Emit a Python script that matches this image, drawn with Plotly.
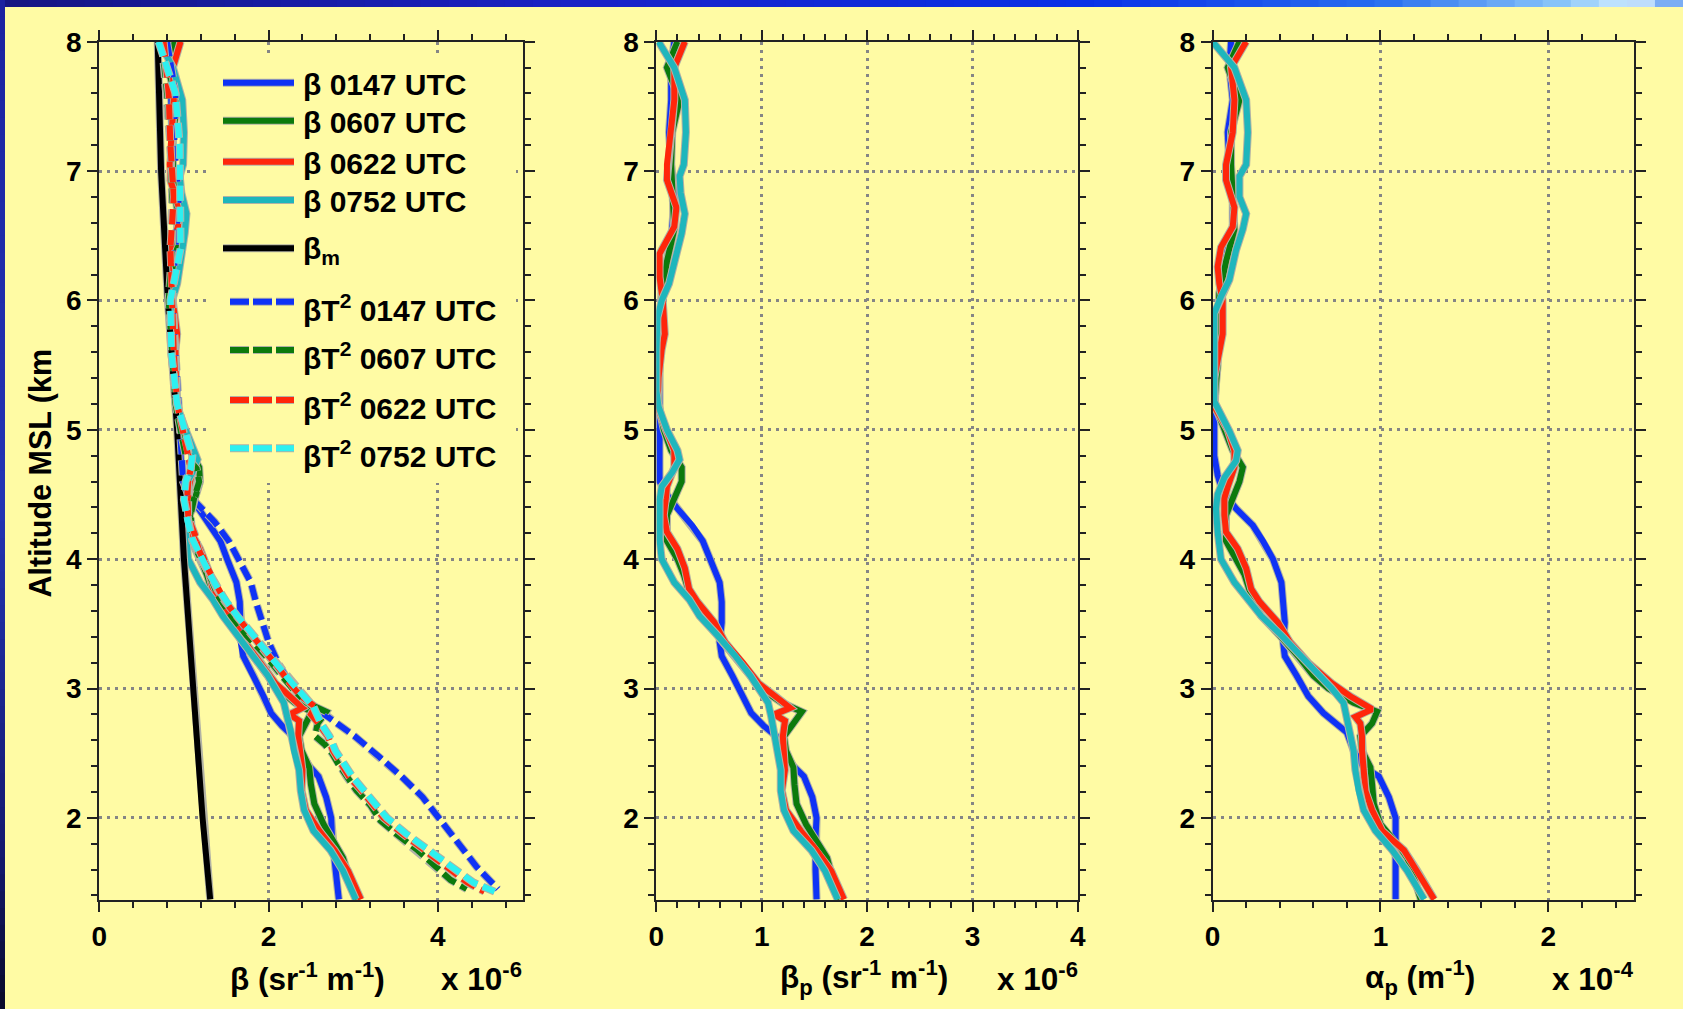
import plotly.graph_objects as go

# ---------------- data ----------------
# Left panel: beta (x 1e-6 sr^-1 m^-1)
ALT_B0147 = [8.0, 7.55, 7.05, 6.8, 6.55, 6.3, 6.05, 5.75, 5.4, 5.1, 4.8, 4.6, 4.52, 4.39, 4.26, 4.14, 4.0, 3.82, 3.67, 3.51, 3.36, 3.25, 3.1, 2.94, 2.81, 2.71, 2.63, 2.52, 2.4, 2.32, 2.16, 2.0, 1.85, 1.6, 1.37]
B0147 = [0.86, 0.85, 0.87, 0.92, 0.92, 0.89, 0.86, 0.87, 0.91, 0.93, 0.96, 0.98, 1.04, 1.17, 1.32, 1.43, 1.51, 1.62, 1.66, 1.67, 1.67, 1.70, 1.82, 1.94, 2.03, 2.16, 2.29, 2.37, 2.48, 2.59, 2.68, 2.74, 2.75, 2.79, 2.83]

ALT_B0607 = [8.0, 7.8, 7.55, 7.3, 7.05, 6.8, 6.55, 6.3, 6.05, 5.75, 5.5, 5.2, 5.0, 4.84, 4.71, 4.6, 4.47, 4.34, 4.14, 4.0, 3.88, 3.72, 3.56, 3.41, 3.25, 3.1, 3.0, 2.89, 2.82, 2.73, 2.63, 2.52, 2.39, 2.26, 2.11, 1.95, 1.8, 1.69, 1.54, 1.37]
B0607 = [0.89, 0.80, 0.93, 0.87, 0.87, 0.90, 0.94, 0.89, 0.86, 0.87, 0.90, 0.92, 0.99, 1.07, 1.18, 1.19, 1.13, 1.07, 1.09, 1.20, 1.27, 1.35, 1.48, 1.64, 1.83, 1.99, 2.10, 2.31, 2.51, 2.44, 2.36, 2.39, 2.48, 2.50, 2.54, 2.65, 2.79, 2.88, 2.95, 3.05]

ALT_B0622 = [8.0, 7.8, 7.55, 7.3, 7.05, 6.93, 6.72, 6.57, 6.45, 6.36, 6.18, 6.0, 5.74, 5.62, 5.4, 5.18, 5.0, 4.84, 4.71, 4.56, 4.47, 4.34, 4.21, 4.08, 3.93, 3.77, 3.67, 3.51, 3.36, 3.2, 3.04, 2.94, 2.85, 2.8, 2.75, 2.63, 2.52, 2.37, 2.21, 2.06, 1.9, 1.75, 1.59, 1.37]
B0622 = [0.96, 0.87, 0.88, 0.86, 0.83, 0.84, 0.94, 0.93, 0.86, 0.81, 0.83, 0.87, 0.92, 0.90, 0.90, 0.91, 1.01, 1.10, 1.11, 1.06, 1.05, 1.04, 1.08, 1.19, 1.28, 1.34, 1.43, 1.60, 1.72, 1.91, 2.08, 2.25, 2.40, 2.25, 2.36, 2.35, 2.37, 2.40, 2.39, 2.44, 2.60, 2.78, 2.94, 3.09]

ALT_B0752 = [8.0, 7.8, 7.55, 7.3, 7.05, 6.96, 6.83, 6.67, 6.52, 6.36, 6.13, 6.0, 5.87, 5.6, 5.3, 5.18, 5.0, 4.84, 4.77, 4.67, 4.56, 4.46, 4.3, 4.15, 4.0, 3.82, 3.69, 3.56, 3.41, 3.25, 3.1, 3.0, 2.89, 2.78, 2.68, 2.52, 2.37, 2.21, 2.06, 1.9, 1.75, 1.59, 1.37]
B0752 = [0.71, 0.87, 0.98, 1.00, 0.99, 0.95, 0.97, 1.03, 1.01, 0.97, 0.92, 0.86, 0.83, 0.85, 0.89, 0.92, 1.02, 1.13, 1.16, 1.10, 1.01, 0.99, 1.01, 1.02, 1.05, 1.19, 1.34, 1.46, 1.64, 1.83, 1.99, 2.08, 2.18, 2.22, 2.26, 2.30, 2.36, 2.38, 2.42, 2.53, 2.73, 2.88, 3.03]

ALT_BM = [8.0, 7.0, 6.0, 5.0, 4.0, 3.0, 2.0, 1.37]
BM = [0.69, 0.73, 0.81, 0.92, 1.00, 1.11, 1.22, 1.31]

ALT_BT0147 = [8.0, 7.6, 7.2, 6.8, 6.4, 6.0, 5.6, 5.2, 4.8, 4.6, 4.5, 4.39, 4.29, 4.14, 3.98, 3.82, 3.67, 3.51, 3.36, 3.2, 3.04, 2.94, 2.84, 2.73, 2.63, 2.47, 2.32, 2.16, 2.0, 1.8, 1.62, 1.45]
BT0147 = [0.80, 0.90, 0.88, 0.94, 0.90, 0.86, 0.90, 0.93, 0.97, 0.99, 1.05, 1.22, 1.36, 1.53, 1.66, 1.79, 1.85, 1.92, 2.00, 2.11, 2.25, 2.38, 2.57, 2.81, 3.02, 3.31, 3.57, 3.82, 4.01, 4.25, 4.46, 4.71]

ALT_BT0607 = [8.0, 7.6, 7.2, 6.8, 6.4, 6.0, 5.6, 5.2, 4.8, 4.7, 4.6, 4.47, 4.34, 4.14, 4.0, 3.88, 3.72, 3.56, 3.41, 3.25, 3.1, 3.0, 2.89, 2.82, 2.73, 2.63, 2.57, 2.5, 2.42, 2.32, 2.21, 2.1, 1.98, 1.88, 1.75, 1.62, 1.52, 1.45]
BT0607 = [0.74, 0.80, 0.84, 0.86, 0.86, 0.82, 0.86, 0.90, 1.02, 1.15, 1.18, 1.12, 1.08, 1.10, 1.22, 1.30, 1.40, 1.56, 1.74, 1.97, 2.15, 2.28, 2.45, 2.68, 2.58, 2.55, 2.66, 2.75, 2.82, 2.92, 3.04, 3.20, 3.32, 3.50, 3.76, 3.98, 4.15, 4.34]

ALT_BT0622 = [8.0, 7.6, 7.2, 6.8, 6.4, 6.0, 5.6, 5.2, 4.8, 4.7, 4.6, 4.47, 4.34, 4.29, 4.19, 4.08, 3.98, 3.88, 3.77, 3.67, 3.56, 3.46, 3.36, 3.25, 3.15, 3.04, 2.94, 2.86, 2.8, 2.73, 2.63, 2.52, 2.42, 2.32, 2.21, 2.11, 2.0, 1.88, 1.75, 1.62, 1.5, 1.43]
BT0622 = [0.76, 0.82, 0.84, 0.88, 0.84, 0.86, 0.88, 0.92, 1.06, 1.08, 1.05, 1.04, 1.05, 1.07, 1.13, 1.17, 1.24, 1.32, 1.39, 1.49, 1.62, 1.75, 1.87, 2.00, 2.13, 2.25, 2.38, 2.55, 2.50, 2.59, 2.70, 2.76, 2.85, 2.95, 3.10, 3.23, 3.36, 3.58, 3.84, 4.10, 4.35, 4.55]

ALT_BT0752 = [8.0, 7.6, 7.2, 6.8, 6.4, 6.0, 5.6, 5.2, 4.8, 4.7, 4.6, 4.46, 4.3, 4.15, 3.98, 3.88, 3.77, 3.67, 3.56, 3.46, 3.36, 3.25, 3.15, 3.04, 2.94, 2.86, 2.73, 2.63, 2.52, 2.42, 2.32, 2.21, 2.11, 2.0, 1.88, 1.75, 1.62, 1.5, 1.43]
BT0752 = [0.70, 0.90, 0.95, 0.96, 0.96, 0.84, 0.85, 0.92, 1.10, 1.08, 1.02, 1.00, 1.04, 1.10, 1.22, 1.31, 1.40, 1.50, 1.63, 1.76, 1.88, 2.02, 2.15, 2.28, 2.42, 2.53, 2.62, 2.72, 2.79, 2.88, 2.99, 3.13, 3.26, 3.40, 3.62, 3.90, 4.17, 4.42, 4.67]

# Middle panel: particulate backscatter beta_p (x 1e-6)
ALT_P0147 = [8.0, 7.8, 7.55, 7.3, 7.05, 6.8, 6.55, 6.3, 6.05, 5.75, 5.4, 5.1, 4.8, 4.6, 4.52, 4.39, 4.26, 4.14, 4.0, 3.82, 3.67, 3.51, 3.36, 3.25, 3.1, 2.94, 2.81, 2.71, 2.63, 2.52, 2.4, 2.32, 2.16, 2.0, 1.85, 1.6, 1.37]
P0147 = [0.17, 0.14, 0.14, 0.12, 0.14, 0.17, 0.15, 0.10, 0.05, 0.03, 0.03, 0.02, 0.02, 0.03, 0.08, 0.20, 0.34, 0.44, 0.51, 0.60, 0.62, 0.62, 0.60, 0.62, 0.72, 0.82, 0.90, 1.02, 1.14, 1.21, 1.30, 1.40, 1.48, 1.52, 1.51, 1.51, 1.52]

ALT_P0607 = [8.0, 7.8, 7.55, 7.3, 7.05, 6.8, 6.55, 6.3, 6.05, 5.75, 5.5, 5.2, 5.0, 4.84, 4.71, 4.6, 4.47, 4.34, 4.14, 4.0, 3.88, 3.72, 3.56, 3.41, 3.25, 3.1, 3.0, 2.89, 2.82, 2.73, 2.63, 2.52, 2.39, 2.26, 2.11, 1.95, 1.8, 1.69, 1.54, 1.37]
P0607 = [0.20, 0.10, 0.22, 0.15, 0.14, 0.15, 0.17, 0.10, 0.05, 0.03, 0.03, 0.02, 0.07, 0.14, 0.24, 0.24, 0.17, 0.10, 0.10, 0.20, 0.26, 0.32, 0.43, 0.58, 0.75, 0.89, 0.99, 1.19, 1.38, 1.30, 1.21, 1.23, 1.30, 1.31, 1.33, 1.42, 1.54, 1.62, 1.67, 1.74]

ALT_P0622 = [8.0, 7.8, 7.55, 7.3, 7.05, 6.93, 6.72, 6.57, 6.45, 6.36, 6.18, 6.0, 5.74, 5.62, 5.4, 5.18, 5.0, 4.84, 4.71, 4.56, 4.47, 4.34, 4.21, 4.08, 3.93, 3.77, 3.67, 3.51, 3.36, 3.2, 3.04, 2.94, 2.85, 2.8, 2.75, 2.63, 2.52, 2.37, 2.21, 2.06, 1.9, 1.75, 1.59, 1.37]
P0622 = [0.27, 0.17, 0.17, 0.14, 0.10, 0.10, 0.19, 0.17, 0.09, 0.03, 0.03, 0.06, 0.08, 0.05, 0.02, 0.01, 0.09, 0.17, 0.17, 0.10, 0.09, 0.07, 0.10, 0.20, 0.27, 0.31, 0.39, 0.55, 0.65, 0.82, 0.97, 1.13, 1.27, 1.12, 1.22, 1.20, 1.21, 1.22, 1.19, 1.23, 1.37, 1.52, 1.66, 1.78]

ALT_P0752 = [8.0, 7.8, 7.55, 7.3, 7.05, 6.96, 6.83, 6.67, 6.52, 6.36, 6.13, 6.0, 5.87, 5.6, 5.3, 5.18, 5.0, 4.84, 4.77, 4.67, 4.56, 4.46, 4.3, 4.15, 4.0, 3.82, 3.69, 3.56, 3.41, 3.25, 3.1, 3.0, 2.89, 2.78, 2.68, 2.52, 2.37, 2.21, 2.06, 1.9, 1.75, 1.59, 1.37]
P0752 = [0.02, 0.17, 0.27, 0.28, 0.26, 0.22, 0.23, 0.27, 0.24, 0.19, 0.12, 0.05, 0.01, 0.00, 0.00, 0.02, 0.10, 0.20, 0.22, 0.15, 0.05, 0.03, 0.03, 0.03, 0.05, 0.17, 0.31, 0.41, 0.58, 0.75, 0.89, 0.97, 1.06, 1.09, 1.11, 1.14, 1.18, 1.18, 1.21, 1.30, 1.47, 1.60, 1.72]

# Right panel: particulate extinction alpha_p (x 1e-4 m^-1)
ALT_A0147 = [8.0, 7.8, 7.55, 7.3, 7.05, 6.8, 6.55, 6.3, 6.05, 5.75, 5.45, 5.1, 4.8, 4.65, 4.52, 4.39, 4.26, 4.14, 4.0, 3.82, 3.67, 3.51, 3.36, 3.25, 3.1, 2.94, 2.81, 2.73, 2.66, 2.52, 2.39, 2.32, 2.16, 2.0, 1.85, 1.6, 1.37]
A0147 = [0.11, 0.10, 0.12, 0.09, 0.10, 0.12, 0.12, 0.07, 0.04, 0.03, 0.01, 0.01, 0.01, 0.03, 0.06, 0.14, 0.24, 0.30, 0.36, 0.41, 0.42, 0.43, 0.42, 0.43, 0.50, 0.57, 0.66, 0.74, 0.80, 0.84, 0.90, 0.99, 1.05, 1.09, 1.09, 1.09, 1.09]

ALT_A0607 = [8.0, 7.8, 7.55, 7.3, 7.05, 6.8, 6.55, 6.3, 6.05, 5.75, 5.5, 5.2, 5.0, 4.84, 4.71, 4.6, 4.47, 4.34, 4.14, 3.98, 3.88, 3.72, 3.56, 3.41, 3.25, 3.1, 3.0, 2.89, 2.82, 2.73, 2.63, 2.52, 2.39, 2.26, 2.11, 1.95, 1.8, 1.69, 1.54, 1.37]
A0607 = [0.16, 0.09, 0.16, 0.11, 0.11, 0.12, 0.13, 0.08, 0.04, 0.03, 0.03, 0.01, 0.07, 0.12, 0.18, 0.16, 0.12, 0.08, 0.08, 0.15, 0.19, 0.23, 0.29, 0.40, 0.51, 0.60, 0.69, 0.84, 0.98, 0.95, 0.88, 0.89, 0.94, 0.95, 0.96, 1.00, 1.10, 1.16, 1.20, 1.24]

ALT_A0622 = [8.0, 7.8, 7.55, 7.3, 7.05, 6.93, 6.72, 6.57, 6.41, 6.26, 6.13, 6.0, 5.74, 5.62, 5.4, 5.18, 5.0, 4.84, 4.71, 4.56, 4.47, 4.34, 4.21, 4.08, 3.93, 3.77, 3.67, 3.51, 3.36, 3.2, 3.04, 2.94, 2.84, 2.78, 2.73, 2.63, 2.52, 2.37, 2.21, 2.06, 1.9, 1.75, 1.59, 1.37]
A0622 = [0.20, 0.11, 0.13, 0.12, 0.08, 0.08, 0.13, 0.12, 0.05, 0.03, 0.04, 0.06, 0.06, 0.04, 0.01, 0.01, 0.09, 0.13, 0.13, 0.09, 0.07, 0.07, 0.08, 0.15, 0.20, 0.23, 0.28, 0.39, 0.46, 0.57, 0.71, 0.82, 0.95, 0.85, 0.88, 0.89, 0.89, 0.90, 0.91, 0.95, 1.01, 1.14, 1.22, 1.32]

ALT_A0752 = [8.0, 7.8, 7.55, 7.3, 7.05, 6.96, 6.8, 6.67, 6.55, 6.39, 6.16, 6.03, 5.9, 5.6, 5.3, 5.22, 4.99, 4.84, 4.76, 4.63, 4.5, 4.39, 4.21, 4.0, 3.82, 3.69, 3.56, 3.41, 3.25, 3.1, 3.0, 2.89, 2.78, 2.68, 2.52, 2.37, 2.21, 2.06, 1.9, 1.75, 1.59, 1.37]
A0752 = [0.00, 0.13, 0.20, 0.21, 0.20, 0.16, 0.16, 0.20, 0.18, 0.14, 0.10, 0.05, 0.01, 0.01, 0.01, 0.01, 0.10, 0.15, 0.14, 0.07, 0.03, 0.02, 0.03, 0.05, 0.13, 0.21, 0.29, 0.41, 0.53, 0.64, 0.71, 0.78, 0.80, 0.82, 0.84, 0.85, 0.87, 0.90, 0.97, 1.07, 1.16, 1.26]

LEGEND_LABELS = ["β 0147 UTC", "β 0607 UTC", "β 0622 UTC", "β 0752 UTC", "β<sub>m</sub>",
                 "βT<sup>2</sup> 0147 UTC", "βT<sup>2</sup> 0607 UTC", "βT<sup>2</sup> 0622 UTC", "βT<sup>2</sup> 0752 UTC"]
Y_TITLE = "Altitude MSL (km"
X_TITLES = ["β (sr<sup>-1</sup> m<sup>-1</sup>)", "β<sub>p</sub> (sr<sup>-1</sup> m<sup>-1</sup>)", "α<sub>p</sub> (m<sup>-1</sup>)"]
X_EXPONENTS = ["x 10<sup>-6</sup>", "x 10<sup>-6</sup>", "x 10<sup>-4</sup>"]

# ---------------- style ----------------
W, H = 1683, 1009
def PX(x):
    return x / W
def PY(y):
    return 1 - y / H

BG = "#FFFBA4"
BLUE = "rgb(15,50,245)"
GREEN = "rgb(12,122,12)"
RED = "rgb(255,38,10)"
TEAL = "rgb(30,182,188)"
CYAN = "rgb(45,240,240)"
BLACK = "rgb(0,0,0)"
HALO = "rgb(178,178,165)"
FONT = "Liberation Sans, Arial, sans-serif"
LW = 6
DASH = "15px,6px"

fig = go.Figure()

def add(x, y, color, xa, ya, dash="solid"):
    fig.add_trace(go.Scatter(x=x, y=y, mode="lines", xaxis=xa, yaxis=ya,
                             line=dict(color=HALO, width=LW + 2, dash=dash),
                             showlegend=False, hoverinfo="skip"))
    fig.add_trace(go.Scatter(x=x, y=y, mode="lines", xaxis=xa, yaxis=ya,
                             line=dict(color=color, width=LW, dash=dash),
                             showlegend=False, hoverinfo="skip"))

# left panel
add(B0147, ALT_B0147, BLUE, "x", "y")
add(B0607, ALT_B0607, GREEN, "x", "y")
add(B0622, ALT_B0622, RED, "x", "y")
add(B0752, ALT_B0752, TEAL, "x", "y")
add(BM, ALT_BM, BLACK, "x", "y")
add(BT0147, ALT_BT0147, BLUE, "x", "y", DASH)
add(BT0607, ALT_BT0607, GREEN, "x", "y", DASH)
add(BT0622, ALT_BT0622, RED, "x", "y", DASH)
add(BT0752, ALT_BT0752, CYAN, "x", "y", DASH)
# middle panel
add(P0147, ALT_P0147, BLUE, "x2", "y2")
add(P0607, ALT_P0607, GREEN, "x2", "y2")
add(P0622, ALT_P0622, RED, "x2", "y2")
add(P0752, ALT_P0752, TEAL, "x2", "y2")
# right panel
add(A0147, ALT_A0147, BLUE, "x3", "y3")
add(A0607, ALT_A0607, GREEN, "x3", "y3")
add(A0622, ALT_A0622, RED, "x3", "y3")
add(A0752, ALT_A0752, TEAL, "x3", "y3")

TOP, BOT = 41.7, 900.0
XDOMS = [(99.3, 522.5), (656.4, 1077.9), (1212.6, 1634.0)]
XRANGES = [[0, 5], [0, 4], [0, 2.51]]
XDTICK = [2, 1, 1]
XMINOR = [0.4, 0.2, 0.2]

tickfont = dict(family=FONT, size=28, color="black", weight="bold")
axcommon = dict(showline=True, linecolor="#222222", linewidth=2, mirror="ticks",
                ticks="outside", ticklen=10, tickwidth=2, tickcolor="#222222",
                showgrid=True, gridcolor="#858585", gridwidth=2.5, griddash="3px,5px",
                zeroline=False, tickfont=tickfont, automargin=False)

layout = dict(width=W, height=H, margin=dict(l=0, r=0, t=0, b=0, pad=0, autoexpand=False),
              paper_bgcolor=BG, plot_bgcolor=BG, showlegend=False)
for i in range(3):
    sfx = "" if i == 0 else str(i + 1)
    layout["xaxis" + sfx] = dict(axcommon, domain=[PX(XDOMS[i][0]), PX(XDOMS[i][1])],
                                 range=XRANGES[i], dtick=XDTICK[i], tick0=0,
                                 anchor="y" + sfx,
                                 minor=dict(dtick=XMINOR[i], tick0=0, ticks="outside", ticklen=6,
                                            tickwidth=2, tickcolor="#222222", showgrid=False))
    layout["yaxis" + sfx] = dict(axcommon, domain=[PY(BOT), PY(TOP)], range=[1.365, 8.0],
                                 dtick=1, tick0=0, anchor="x" + sfx,
                                 minor=dict(dtick=0.2, tick0=0, ticks="outside", ticklen=6,
                                            tickwidth=2, tickcolor="#222222", showgrid=False))
fig.update_layout(**layout)

shapes = []
annotations = []

# frame: blue gradient bands (top and left)
top_stops = [(0.0, (22, 22, 130)), (0.35, (26, 34, 200)), (0.65, (10, 50, 232)),
             (0.82, (40, 110, 240)), (0.93, (140, 200, 250)), (0.97, (210, 236, 255)), (1.0, (90, 150, 240))]
def interp(stops, t):
    for (t0, c0), (t1, c1) in zip(stops[:-1], stops[1:]):
        if t0 <= t <= t1:
            f = (t - t0) / (t1 - t0) if t1 > t0 else 0
            return "rgb(%d,%d,%d)" % tuple(int(a + (b - a) * f) for a, b in zip(c0, c1))
    return "rgb(%d,%d,%d)" % stops[-1][1]
N = 60
for k in range(N):
    t0, t1 = k / N, (k + 1) / N
    shapes.append(dict(type="rect", xref="paper", yref="paper", x0=t0, x1=t1 + 0.002,
                       y0=PY(7), y1=1, line=dict(width=0), fillcolor=interp(top_stops, (t0 + t1) / 2),
                       layer="above"))
left_stops = [(0.0, (28, 34, 160)), (0.5, (36, 52, 180)), (0.85, (20, 24, 110)), (1.0, (10, 10, 40))]
for k in range(N):
    t0, t1 = k / N, (k + 1) / N
    shapes.append(dict(type="rect", xref="paper", yref="paper", x0=0, x1=PX(5),
                       y0=1 - t1 - 0.002, y1=1 - t0, line=dict(width=0),
                       fillcolor=interp(left_stops, (t0 + t1) / 2), layer="above"))

# legend box (opaque, hides grid)
shapes.append(dict(type="rect", xref="paper", yref="paper", x0=PX(210), x1=PX(516),
                   y0=PY(483), y1=PY(58), line=dict(width=0), fillcolor=BG, layer="above"))
LEG_COLORS = [BLUE, GREEN, RED, TEAL, BLACK, BLUE, GREEN, RED, CYAN]
LEG_Y = [82.7, 120.7, 161.7, 200.0, 248.3, 301.7, 350.0, 400.0, 448.3]
for i, (lab, col, yy) in enumerate(zip(LEGEND_LABELS, LEG_COLORS, LEG_Y)):
    dashed = i >= 5
    x0 = PX(230 if dashed else 223)
    shapes.append(dict(type="line", xref="paper", yref="paper",
                       x0=x0, x1=PX(294), y0=PY(yy), y1=PY(yy),
                       line=dict(color=HALO, width=8, dash="19px,4px" if dashed else "solid"),
                       layer="above"))
    shapes.append(dict(type="line", xref="paper", yref="paper",
                       x0=x0, x1=PX(294), y0=PY(yy), y1=PY(yy),
                       line=dict(color=col, width=6, dash="19px,4px" if dashed else "solid"),
                       layer="above"))
    annotations.append(dict(text=lab, xref="paper", yref="paper", x=PX(301),
                            y=PY(yy + (6 if dashed else 2)), xanchor="left", yanchor="middle",
                            showarrow=False, font=dict(family=FONT, size=30, color="black", weight="bold")))

ytitlefont = dict(family=FONT, size=30.5, color="black", weight="bold")
xtitlefont = dict(family=FONT, size=31.5, color="black", weight="bold")
annotations.append(dict(text=Y_TITLE, xref="paper", yref="paper", x=PX(40), y=PY(473.5),
                        xanchor="center", yanchor="middle", textangle=-90, showarrow=False, font=ytitlefont))
XT_CX = [307, 863.6, 1420]
XE_CX = [481, 1037, 1593]
for i in range(3):
    annotations.append(dict(text=X_TITLES[i], xref="paper", yref="paper", x=PX(XT_CX[i]), y=PY(977),
                            xanchor="center", yanchor="middle", showarrow=False, font=xtitlefont))
    annotations.append(dict(text=X_EXPONENTS[i], xref="paper", yref="paper", x=PX(XE_CX[i]), y=PY(977),
                            xanchor="center", yanchor="middle", showarrow=False, font=xtitlefont))

fig.update_layout(shapes=shapes, annotations=annotations)
fig.write_html("out.html", post_script="document.body.style.margin='0px';document.body.style.overflow='hidden';")
